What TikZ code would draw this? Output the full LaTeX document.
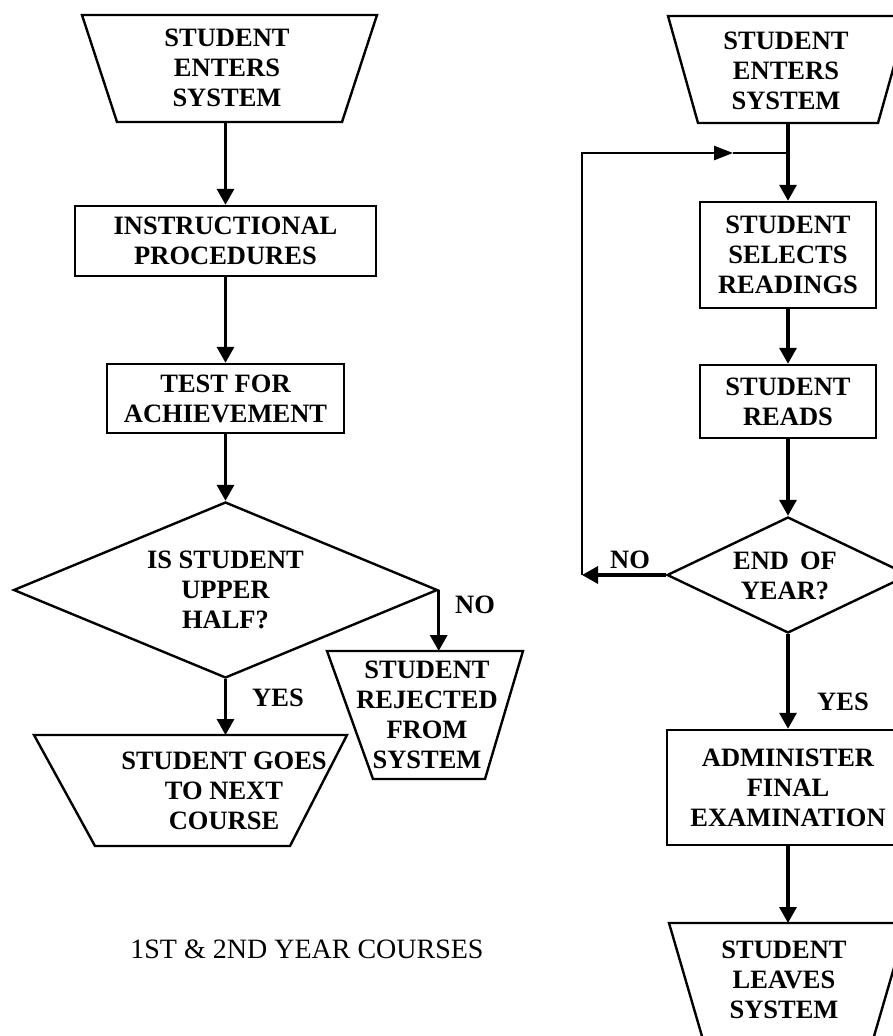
\documentclass[tikz,border=0pt]{standalone}
\usepackage{fontspec}
\setmainfont{Liberation Serif}
\usetikzlibrary{arrows.meta,shapes.geometric}
\begin{document}
\begin{tikzpicture}[x=1pt,y=-1pt,
  outline/.style={draw=black, line width=2.4pt, line join=miter},
  boxnode/.style={outline, rectangle, inner sep=0pt, align=center,
    font=\fontsize{26.5}{30}\selectfont\bfseries},
  decision/.style={outline, diamond, inner sep=0pt},
  txt/.style={align=center, inner sep=0pt, font=\fontsize{26.5}{30}\selectfont\bfseries},
  captiontxt/.style={inner sep=0pt, font=\fontsize{28}{30}\selectfont},
  flow/.style={draw=black, line width=3.2pt, -{Triangle[length=16pt,width=17pt]}},
  loopflow/.style={draw=black, line width=2.6pt, -{Triangle[length=19pt,width=14pt]}},
  plain/.style={draw=black, line width=2.6pt},
]
\fill[white] (0,0) rectangle (893,1036);
\useasboundingbox (0,0) rectangle (893,1036);
\clip (0,0) rectangle (893,1036);

% ---------------- left chart: 1st & 2nd year courses ----------------
\draw[outline] (82,15) -- (377,15) -- (342,122) -- (117,122) -- cycle;
\node[txt] (enterL) at (227,68) {STUDENT\\ENTERS\\SYSTEM};
\coordinate (enterLout) at (225.5,122);

\node[boxnode, minimum width=301pt, minimum height=70pt] (instr) at (225.5,241)
  {INSTRUCTIONAL\\PROCEDURES};
\node[boxnode, minimum width=237pt, minimum height=69pt] (test) at (225.5,398.5)
  {TEST FOR\\ACHIEVEMENT};

\node[decision, minimum width=424pt, minimum height=176pt] (upper) at (225.5,590) {};
\node[txt] (upperT) at (upper.center) {IS STUDENT\\UPPER\\HALF?};

\draw[outline] (327,651) -- (523,651) -- (485,779) -- (373,779) -- cycle;
\node[txt] (reject) at (427,714.5) {STUDENT\\REJECTED\\FROM\\SYSTEM};
\coordinate (rejectIn) at (427,651);

\draw[outline] (34,735) -- (347,735) -- (290,846) -- (95,846) -- cycle;
\node[txt] (nextc) at (224,791) {STUDENT GOES\\TO NEXT\\COURSE};
\coordinate (nextIn) at (224,735);

\draw[flow] (enterLout) -- (instr.north);
\draw[flow] (instr.south) -- (test.north);
\draw[flow] (test.south) -- (upper.north);
\draw[flow] (upper.east) -- (upper.east |- rejectIn);
\draw[flow] (upper.south) -- (upper.south |- nextIn);

\node[txt] (noL) at (475,605) {NO};
\node[txt] (yesL) at (278,698) {YES};

\node[captiontxt] (caption) at (307,949) {1ST \& 2ND YEAR COURSES};

% ---------------- right chart: reading course ----------------
\draw[outline] (668,16) -- (908,16) -- (878,123) -- (698,123) -- cycle;
\node[txt] (enterR) at (786,71) {STUDENT\\ENTERS\\SYSTEM};
\coordinate (enterRout) at (788,123);

\node[boxnode, minimum width=176pt, minimum height=106pt] (select) at (788,255)
  {STUDENT\\SELECTS\\READINGS};
\node[boxnode, minimum width=176pt, minimum height=73pt] (reads) at (788,401.5)
  {STUDENT\\READS};

\node[decision, minimum width=242pt, minimum height=116pt] (year) at (788,575) {};
\node[txt] (yearT) at (785,576) {END\,\ OF\\YEAR?};

\node[boxnode, minimum width=242pt, minimum height=115pt] (admin) at (788,787.5)
  {ADMINISTER\\FINAL\\EXAMINATION};

\draw[outline] (669,923) -- (907,923) -- (870,1050) -- (706,1050) -- cycle;
\node[txt] (leaves) at (784,980) {STUDENT\\LEAVES\\SYSTEM};
\coordinate (leavesIn) at (788,923);

% return loop for the NO branch
\coordinate (loopJoin) at (788,153);
\coordinate (loopBL) at (582,575);
\coordinate (loopTL) at (582,153);
\coordinate (loopTip) at (733,153);

\draw[flow] (enterRout) -- (select.north);
\draw[flow] (select.south) -- (reads.north);
\draw[flow] (reads.south) -- (year.north);
\draw[flow] (year.south) -- (admin.north);
\draw[flow] (admin.south) -- (admin.south |- leavesIn);

\draw[flow] (year.west) -- (loopBL);
\draw[loopflow] (loopBL) -- (loopTL) -- (loopTip);
\draw[plain] (loopTip) -- (loopJoin);

\node[txt] (noR) at (630,560) {NO};
\node[txt] (yesR) at (843,702) {YES};
\end{tikzpicture}
\end{document}
